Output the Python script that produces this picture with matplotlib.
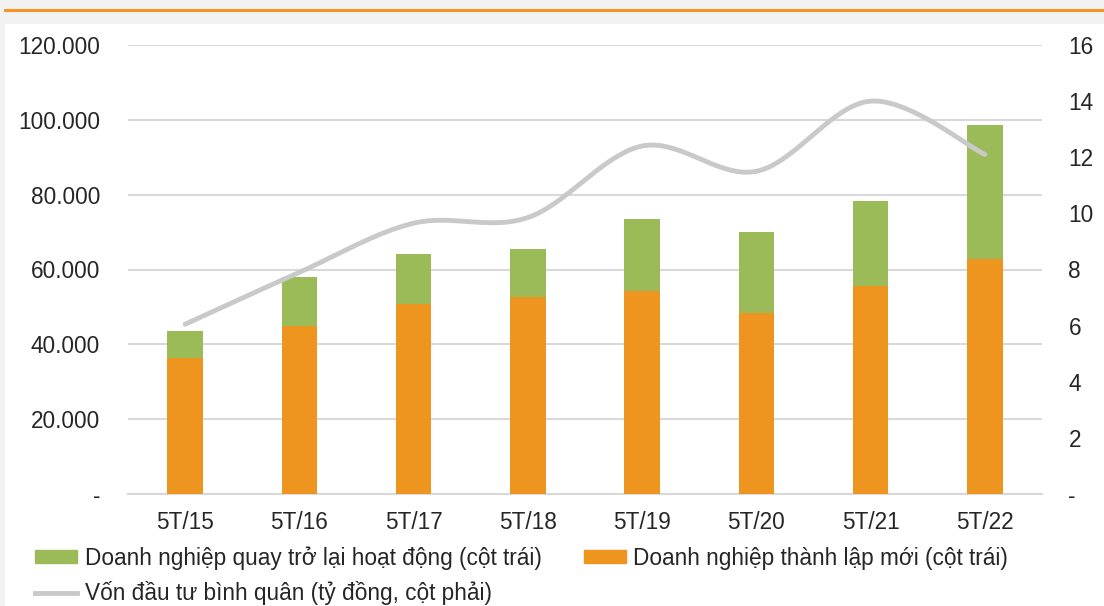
import numpy as np
import matplotlib
matplotlib.use("Agg")
from matplotlib import pyplot as plt
from matplotlib.patches import Rectangle, Patch
from matplotlib.lines import Line2D
from matplotlib.ticker import FuncFormatter

plt.rcParams['font.family'] = ['Liberation Sans', 'DejaVu Sans']

periods = ["5T/15", "5T/16", "5T/17", "5T/18", "5T/19", "5T/20", "5T/21", "5T/22"]
new_firms = [36300, 44900, 50800, 52650, 54250, 48400, 55600, 62800]
returning_firms = [7250, 13100, 13350, 12850, 19250, 21600, 22700, 35800]
avg_capital = [6.05, 7.9, 9.65, 9.85, 12.4, 11.5, 14.0, 12.1]

ORANGE = "#EE951F"
GREEN = "#9BBB59"
LINE_GRAY = "#C9C9C9"
GRID = "#D9D9D9"
TEXT = "#262626"
FS = 16.3


def smooth(xs, ys, n=40):
    # catmull-rom through the points, roughly like excel's smoothed line
    xs = np.asarray(xs, float)
    ys = np.asarray(ys, float)
    px = np.concatenate([[xs[0]], xs, [xs[-1]]])
    py = np.concatenate([[ys[0]], ys, [ys[-1]]])
    out_x, out_y = [], []
    t = np.linspace(0, 1, n)
    for i in range(1, len(px) - 2):
        for p, out in ((px, out_x), (py, out_y)):
            p0, p1, p2, p3 = p[i - 1], p[i], p[i + 1], p[i + 2]
            out.extend(0.5 * ((2 * p1) + (-p0 + p2) * t
                              + (2 * p0 - 5 * p1 + 4 * p2 - p3) * t ** 2
                              + (-p0 + 3 * p1 - 3 * p2 + p3) * t ** 3))
    return np.array(out_x), np.array(out_y)


fig = plt.figure(figsize=(11.04, 6.06), dpi=100)
fig.set_facecolor("#F2F2F2")

# white panel and the orange rule on top
W, H = 1104, 606
fig.patches.append(Rectangle((5 / W, 0), 1, 1 - 24 / H, transform=fig.transFigure,
                             facecolor="white", edgecolor="none", zorder=-5))
fig.add_artist(Line2D([5 / W, 1], [1 - 9.5 / H] * 2, transform=fig.transFigure,
                      color="#F7931E", lw=2.2))

ax = fig.add_axes([128 / W, 1 - 494 / H, (1042 - 128) / W, (494 - 45) / H])
ax.set_facecolor("none")
x = np.arange(len(periods))
ax.bar(x, new_firms, width=0.31, color=ORANGE, zorder=3)
ax.bar(x, returning_firms, width=0.31, bottom=new_firms, color=GREEN, zorder=3)
ax.set_xlim(-0.5, len(periods) - 0.5)
ax.set_ylim(0, 120000)
ax.set_yticks(np.arange(0, 120001, 20000))
ax.yaxis.set_major_formatter(FuncFormatter(
    lambda v, p: "-" if v == 0 else f"{int(v):,}".replace(",", ".")))
ax.set_xticks(x)
ax.set_xticklabels(periods)
ax.yaxis.grid(True, color=GRID, lw=1.5, zorder=0)
for s in ["top", "right", "left"]:
    ax.spines[s].set_visible(False)
ax.spines["bottom"].set_color(GRID)
ax.spines["bottom"].set_linewidth(1.5)
ax.tick_params(axis="y", length=0, pad=20, labelsize=FS, colors=TEXT)
ax.tick_params(axis="x", length=0, pad=12, labelsize=FS, colors=TEXT)

ax2 = ax.twinx()
sx, sy = smooth(x, avg_capital)
ax2.plot(sx, sy, color=LINE_GRAY, lw=3.5, solid_capstyle="round", zorder=4)
ax2.set_ylim(0, 16)
ax2.set_yticks(np.arange(0, 17, 2))
ax2.yaxis.set_major_formatter(FuncFormatter(lambda v, p: "-" if v == 0 else f"{int(v)}"))
for s in ax2.spines.values():
    s.set_visible(False)
ax2.tick_params(axis="y", length=0, pad=19, labelsize=FS, colors=TEXT)

handles = [Patch(color=GREEN), Line2D([], [], color=LINE_GRAY, lw=3.5), Patch(color=ORANGE)]
labels = ["Doanh nghiệp quay trở lại hoạt động (cột trái)",
          "Vốn đầu tư bình quân (tỷ đồng, cột phải)",
          "Doanh nghiệp thành lập mới (cột trái)"]
fig.legend(handles, labels, ncol=2, loc="upper left", bbox_to_anchor=(26 / W, 1 - 537 / H),
           frameon=False, fontsize=FS, handlelength=1.85, handleheight=0.55,
           handletextpad=0.35, columnspacing=1.85, labelspacing=0.52, borderaxespad=0,
           labelcolor=TEXT)

fig.savefig("out.png", dpi=100, facecolor=fig.get_facecolor())
